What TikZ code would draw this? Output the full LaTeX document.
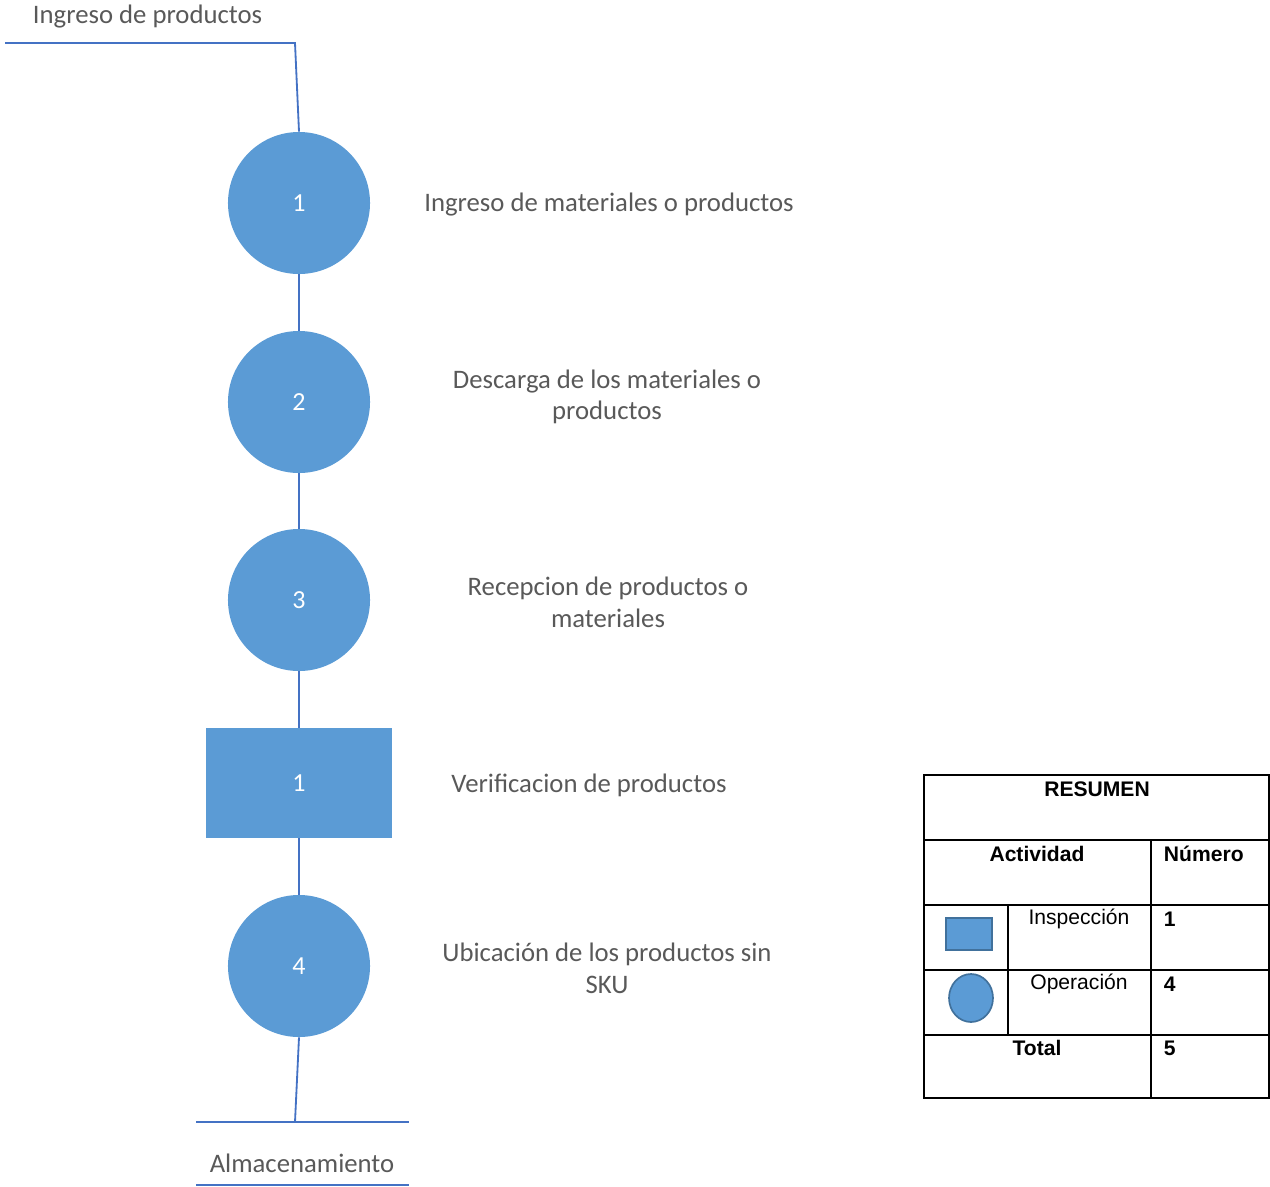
\documentclass[tikz,border=0pt]{standalone}
\usepackage{fontspec}
\setmainfont{Carlito}
\newfontfamily\tablefont{Liberation Sans}
\definecolor{relleno}{HTML}{5B9BD5}
\definecolor{linea}{HTML}{4472C4}
\definecolor{borde}{HTML}{41719C}
\definecolor{texto}{HTML}{595959}
\tikzset{
  operacion/.style={circle,fill=relleno,minimum size=3.55cm,inner sep=0pt,text=white,font=\fontsize{18.5}{22}\selectfont},
  inspeccion/.style={rectangle,fill=relleno,minimum width=4.625cm,minimum height=2.75cm,inner sep=0pt,text=white,font=\fontsize{18.5}{22}\selectfont},
  etiqueta/.style={text=texto,align=center,font=\fontsize{19}{22.5}\selectfont},
  flujo/.style={linea,line width=1.3pt},
  celda/.style={font=\tablefont\fontsize{15}{17}\selectfont},
  celdab/.style={font=\tablefont\bfseries\fontsize{15}{17}\selectfont}
}
\begin{document}
\begin{tikzpicture}[x=0.025cm,y=-0.025cm]
  \useasboundingbox (0,0) rectangle (1270,1186);

  % Entrada
  \node[etiqueta,anchor=west] (ingreso) at (28,17) {Ingreso de productos};
  \coordinate (entrada) at (5,43);
  \coordinate (codo) at (295,43);

  % Actividades
  \node[operacion] (op1) at (299,203) {1};
  \node[operacion] (op2) at (299,402) {2};
  \node[operacion] (op3) at (299,600) {3};
  \node[inspeccion] (insp1) at (299,783) {1};
  \node[operacion] (op4) at (299,966) {4};

  % Descripciones
  \node[etiqueta] (t1) at (609,205) {Ingreso de materiales o productos};
  \node[etiqueta] (t2) at (607,397) {Descarga de los materiales o\\productos};
  \node[etiqueta] (t3) at (608,602) {Recepcion de productos o\\materiales};
  \node[etiqueta] (t4) at (589,785) {Verificacion de productos};
  \node[etiqueta] (t5) at (607,968) {Ubicación de los productos sin\\SKU};

  % Conectores
  \draw[flujo] (entrada) -- (codo) -- (op1.north);
  \draw[flujo] (op1) -- (op2);
  \draw[flujo] (op2) -- (op3);
  \draw[flujo] (op3) -- (insp1);
  \draw[flujo] (insp1) -- (op4);

  % Salida
  \coordinate (fin) at (295,1122);
  \coordinate (almA) at (196,1122);
  \coordinate (almB) at (409,1122);
  \coordinate (almC) at (196,1185);
  \coordinate (almD) at (409,1185);
  \draw[flujo] (op4.south) -- (fin);
  \draw[flujo] (almA) -- (almB);
  \draw[flujo] (almC) -- (almD);
  \node[etiqueta] (alm) at (302,1163) {Almacenamiento};

  % Tabla resumen
  \draw[line width=1.4pt] (924,775) rectangle (1269,1098);
  \draw[line width=1.4pt] (924,840) -- (1269,840);
  \draw[line width=1.4pt] (924,905) -- (1269,905);
  \draw[line width=1.4pt] (924,970) -- (1269,970);
  \draw[line width=1.4pt] (924,1035) -- (1269,1035);
  \draw[line width=1.4pt] (1151,840) -- (1151,1098);
  \draw[line width=1.4pt] (1008,905) -- (1008,1035);

  \node[celdab] (resumen) at (1097,789) {RESUMEN};
  \node[celdab] (actividad) at (1037,854) {Actividad};
  \node[celdab,anchor=west] (numero) at (1159,854) {Número};
  \node[celda] (insp) at (1079,919) {Inspección};
  \node[celdab,anchor=west] (n1) at (1159,919) {1};
  \node[celda] (oper) at (1079,984) {Operación};
  \node[celdab,anchor=west] (n4) at (1159,984) {4};
  \node[celdab] (total) at (1037,1048) {Total};
  \node[celdab,anchor=west] (n5) at (1159,1048) {5};

  % Simbolos de la tabla
  \draw[fill=relleno,draw=borde,line width=1.2pt] (946,918) rectangle (992,950);
  \draw[fill=relleno,draw=borde,line width=1.2pt] (971,998) ellipse (22 and 24);
\end{tikzpicture}
\end{document}
